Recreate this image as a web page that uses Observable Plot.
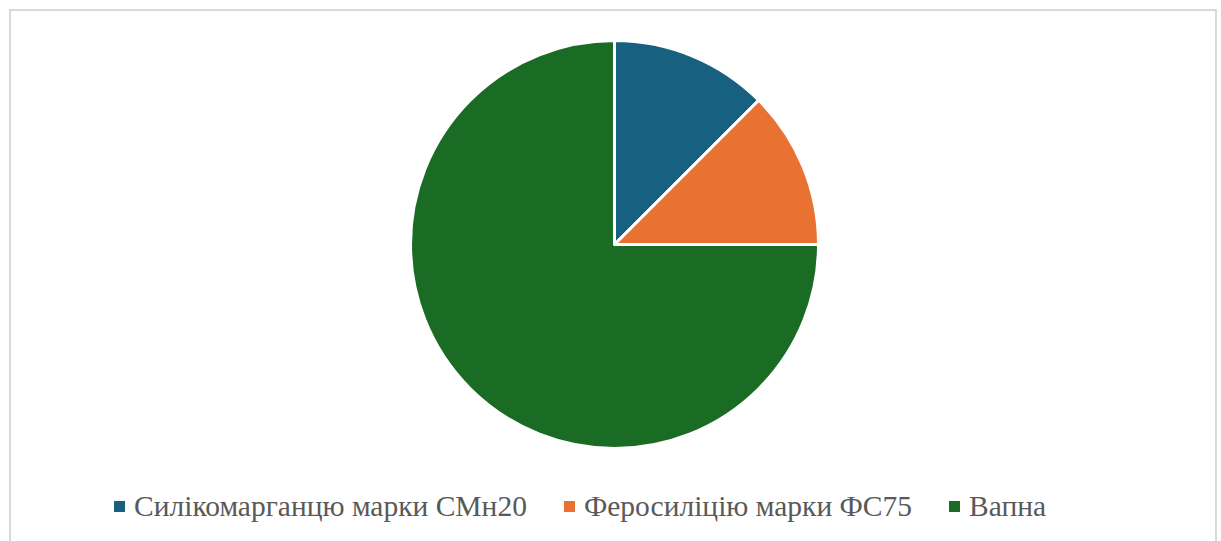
<!DOCTYPE html>
<html>
<head>
<meta charset="utf-8">
<script src="https://cdn.jsdelivr.net/npm/d3@7"></script>
<script src="https://cdn.jsdelivr.net/npm/@observablehq/plot@0.6"></script>
<style>
  html, body { margin: 0; padding: 0; background: #fff; }
  #wrap { position: relative; width: 1221px; height: 541px; overflow: hidden; }
  #frame { position: absolute; left: 9px; top: 9px; width: 1208px; height: 600px; border: 2px solid #d9d9d9; pointer-events: none; box-sizing: border-box; }
  #chart { position: absolute; left: 0; top: 0; }
  #legend { position: absolute; left: 114px; top: 488px; display: flex; align-items: center; color: #595959; line-height: 36px; white-space: nowrap; font-family: "Liberation Serif", "Times New Roman", serif; font-size: 29.5px; }
  .item { display: flex; align-items: center; margin-right: 37px; }
  .sw { width: 11px; height: 11px; margin-right: 9px; }
</style>
</head>
<body>
<div id="wrap">
  <div id="chart"></div>
  <div id="legend"></div>
  <div id="frame"></div>
</div>
<script>
const categories = ["Силікомарганцю марки СМн20", "Феросиліцію марки ФС75", "Вапна"];
const values = [12.5, 12.5, 75];
const colors = ["#17607f", "#e97132", "#1a6b24"];

const data = categories.map((name, i) => ({name, value: values[i]}));

const W = 1221, H = 480;
const cx = 614.5, cy = 244.5, R = 204;

function pieMark(index, scales, vals, dims) {
  const pie = d3.pie().sort(null).value(d => d.value)(data);
  const arc = d3.arc().innerRadius(0).outerRadius(R);
  const g = d3.create("svg:g").attr("transform", `translate(${cx},${cy})`);
  g.selectAll("path").data(pie).join("path")
    .attr("d", arc)
    .attr("fill", d => scales.color(d.data.name))
    .attr("stroke", "#fff")
    .attr("stroke-width", 3)
    .attr("stroke-linejoin", "round");
  return g.node();
}

const chart = Plot.plot({
  width: W,
  height: H,
  margin: 0,
  x: {axis: null, domain: [0, 1]},
  y: {axis: null, domain: [0, 1]},
  color: {domain: categories, range: colors},
  marks: [
    Plot.dot(data, {x: () => 0, y: () => 0, fill: "name", r: 0}),
    pieMark
  ]
});
document.getElementById("chart").appendChild(chart);

const color = chart.scale("color");
const legend = document.getElementById("legend");
categories.forEach(c => {
  const it = document.createElement("div");
  it.className = "item";
  const sw = document.createElement("div");
  sw.className = "sw";
  sw.style.background = color.apply(c);
  const t = document.createElement("span");
  t.textContent = c;
  it.appendChild(sw); it.appendChild(t);
  legend.appendChild(it);
});
</script>
</body>
</html>
